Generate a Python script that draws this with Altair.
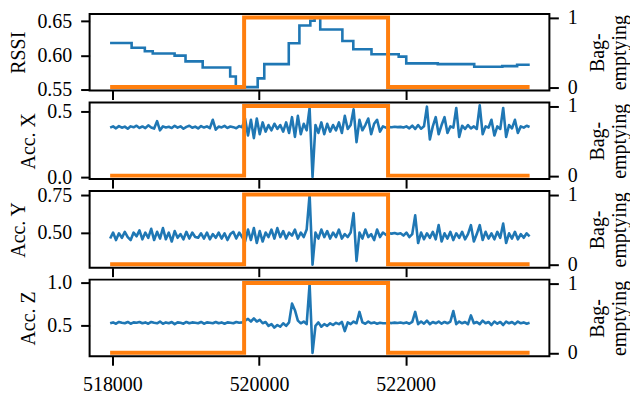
import altair as alt
import pandas as pd

FONT = "Liberation Serif"
BLUE = "#1f77b4"
ORANGE = "#ff7f0e"

# ---- data ----
T0 = 517970
DT = 40

rssi_t = [517969, 518263, 518443, 518551, 518849, 518998, 519232, 519607, 519684,
          519982, 520072, 520406, 520551, 520700, 520758, 520835, 521137, 521286,
          521534, 521905, 522008, 522438, 522935, 523318, 523520, 523692]
rssi_v = [0.618, 0.611, 0.606, 0.6025, 0.5995, 0.591, 0.582, 0.5686, 0.553,
          0.566, 0.587, 0.6177, 0.644, 0.651, 0.656, 0.638, 0.621, 0.609,
          0.6015, 0.598, 0.588, 0.587, 0.583, 0.584, 0.586, 0.586]

acc_x = [0.38, 0.39, 0.375, 0.392, 0.38, 0.388, 0.372, 0.39, 0.383, 0.395,
         0.378, 0.389, 0.376, 0.398, 0.381, 0.373, 0.43, 0.36, 0.39, 0.382,
         0.387, 0.377, 0.394, 0.38, 0.39, 0.372, 0.386, 0.395, 0.379, 0.388,
         0.374, 0.392, 0.381, 0.39, 0.376, 0.44, 0.365, 0.388, 0.382, 0.394,
         0.378, 0.389, 0.384, 0.376, 0.392, 0.383,
         0.45, 0.32, 0.44, 0.30, 0.45, 0.33, 0.42, 0.35, 0.40, 0.36,
         0.41, 0.37, 0.40, 0.35, 0.42, 0.34, 0.46, 0.31, 0.47, 0.33,
         0.41, 0.36, 0.53, 0.005, 0.40, 0.34, 0.42, 0.33, 0.41, 0.35,
         0.40, 0.36, 0.42, 0.34, 0.47, 0.37, 0.40, 0.52, 0.27, 0.44,
         0.36, 0.40, 0.45, 0.33, 0.41, 0.44, 0.35, 0.39, 0.38,
         0.385, 0.383, 0.387, 0.384, 0.386, 0.381, 0.39, 0.375, 0.395, 0.37,
         0.40, 0.372, 0.39, 0.54, 0.29, 0.39, 0.46, 0.33, 0.40, 0.46,
         0.34, 0.39, 0.38, 0.53, 0.31, 0.395, 0.37, 0.40, 0.375, 0.39,
         0.37, 0.55, 0.33, 0.39, 0.38, 0.44, 0.32, 0.39, 0.37, 0.53,
         0.31, 0.40, 0.375, 0.44, 0.34, 0.39, 0.38, 0.395, 0.385]

acc_y = [0.46, 0.50, 0.45, 0.495, 0.465, 0.505, 0.47, 0.45, 0.50, 0.475,
         0.515, 0.455, 0.50, 0.465, 0.525, 0.45, 0.505, 0.46, 0.53, 0.455,
         0.50, 0.44, 0.51, 0.465, 0.49, 0.455, 0.505, 0.46, 0.50, 0.47,
         0.465, 0.495, 0.46, 0.50, 0.455, 0.49, 0.465, 0.50, 0.46, 0.495,
         0.45, 0.49, 0.505, 0.46, 0.50, 0.47,
         0.44, 0.52, 0.45, 0.53, 0.43, 0.51, 0.44, 0.50, 0.47, 0.52,
         0.46, 0.53, 0.47, 0.51, 0.46, 0.50, 0.48, 0.52, 0.46, 0.50,
         0.47, 0.52, 0.755, 0.285, 0.50, 0.46, 0.52, 0.47, 0.51, 0.46,
         0.50, 0.47, 0.52, 0.46, 0.49, 0.47, 0.50, 0.63, 0.31, 0.50,
         0.46, 0.52, 0.47, 0.49, 0.45, 0.52, 0.47, 0.50, 0.485,
         0.495, 0.493, 0.497, 0.49, 0.495, 0.48, 0.50, 0.47, 0.49, 0.615,
         0.43, 0.50, 0.455, 0.495, 0.465, 0.505, 0.455, 0.55, 0.44, 0.495,
         0.46, 0.505, 0.45, 0.495, 0.465, 0.505, 0.455, 0.49, 0.55, 0.44,
         0.49, 0.55, 0.45, 0.505, 0.46, 0.495, 0.455, 0.505, 0.465, 0.56,
         0.43, 0.495, 0.46, 0.505, 0.455, 0.49, 0.465, 0.495, 0.475]

acc_z = [0.53, 0.54, 0.525, 0.545, 0.535, 0.53, 0.545, 0.525, 0.54, 0.535,
         0.545, 0.53, 0.54, 0.525, 0.545, 0.535, 0.53, 0.55, 0.525, 0.54,
         0.53, 0.545, 0.52, 0.54, 0.535, 0.525, 0.545, 0.53, 0.54, 0.535,
         0.53, 0.545, 0.525, 0.54, 0.535, 0.53, 0.545, 0.53, 0.54, 0.525,
         0.54, 0.535, 0.53, 0.545, 0.535, 0.54,
         0.56, 0.58, 0.55, 0.585, 0.55, 0.57, 0.53, 0.545, 0.50, 0.52,
         0.48, 0.51, 0.49, 0.53, 0.50, 0.54, 0.755, 0.68, 0.56, 0.53,
         0.55, 0.52, 0.98, 0.19, 0.50, 0.54, 0.49, 0.52, 0.50, 0.53,
         0.51, 0.535, 0.52, 0.545, 0.44, 0.54, 0.52, 0.55, 0.53, 0.66,
         0.54, 0.525, 0.55, 0.53, 0.54, 0.525, 0.535, 0.53, 0.53,
         0.535, 0.532, 0.537, 0.533, 0.538, 0.53, 0.54, 0.525, 0.545, 0.66,
         0.52, 0.55, 0.525, 0.56, 0.52, 0.545, 0.53, 0.55, 0.525, 0.545,
         0.53, 0.55, 0.67, 0.52, 0.55, 0.53, 0.545, 0.52, 0.62, 0.53,
         0.545, 0.52, 0.56, 0.53, 0.545, 0.51, 0.55, 0.525, 0.545, 0.51,
         0.55, 0.53, 0.545, 0.52, 0.55, 0.53, 0.54, 0.525, 0.535]

event_t = [517970, 519797, 519797, 521760, 521760, 523690]
event_v = [0, 0, 1, 1, 0, 0]

X_TICKS = [518000, 520000, 522000]
X_DOMAIN = [517690, 523960]


def sig_df(values):
    return pd.DataFrame({"t": [T0 + DT * i for i in range(len(values))], "v": values})


rssi_df = pd.DataFrame({"t": rssi_t, "v": rssi_v})
ev_df = pd.DataFrame({"t": event_t, "v": event_v, "o": list(range(len(event_t)))})

x_scale = alt.Scale(domain=X_DOMAIN, nice=False, zero=False)


def panel(df, ytitle, ydomain, yticks, yfmt, show_labels, step=False):
    xaxis = alt.Axis(values=X_TICKS, format="d", labels=show_labels, title=None)
    blue = alt.Chart(df).mark_line(
        color=BLUE, strokeWidth=2.6,
        interpolate="step-after" if step else "linear",
        strokeJoin="miter" if step else "round",
    ).encode(
        x=alt.X("t:Q", scale=x_scale, axis=xaxis),
        y=alt.Y("v:Q", scale=alt.Scale(domain=ydomain, nice=False, zero=False),
                axis=alt.Axis(values=yticks, format=yfmt, title=ytitle, orient="left")),
    )
    orange = alt.Chart(ev_df).mark_line(color=ORANGE, strokeWidth=4, strokeCap="butt").encode(
        x=alt.X("t:Q", scale=x_scale, axis=xaxis),
        y=alt.Y("v:Q", scale=alt.Scale(domain=[-0.05, 1.05], nice=False, zero=False),
                axis=alt.Axis(orient="right", values=[0, 1], format="d",
                              title=["Bag-", "emptying"], titleAngle=270)),
        order="o:Q",
    )
    return alt.layer(blue, orange).resolve_scale(y="independent").properties(width=462, height=77)


p1 = panel(rssi_df, "RSSI", [0.548, 0.661], [0.55, 0.60, 0.65], ".2f", False, step=True)
p2 = panel(sig_df(acc_x), "Acc. X", [-0.012, 0.572], [0.0, 0.5], ".1f", False)
p3 = panel(sig_df(acc_y), "Acc. Y", [0.265, 0.778], [0.50, 0.75], ".2f", False)
p4 = panel(sig_df(acc_z), "Acc. Z", [0.152, 1.03], [0.5, 1.0], ".1f", True)

chart = alt.vconcat(p1, p2, p3, p4, spacing=12, bounds="flush").properties(
    padding={"left": 0, "top": -3, "right": 0, "bottom": 0}
).configure_view(
    stroke="black", strokeWidth=2
).configure_axis(
    labelFont=FONT, titleFont=FONT, labelFontSize=20, titleFontSize=20,
    labelColor="black", titleColor="black", tickColor="black", tickWidth=2,
    tickSize=9, labelPadding=9, domain=False, grid=False,
    titleFontWeight="normal", titlePadding=8,
)

chart.save("out.html", embed_options={"renderer": "svg", "actions": False})
